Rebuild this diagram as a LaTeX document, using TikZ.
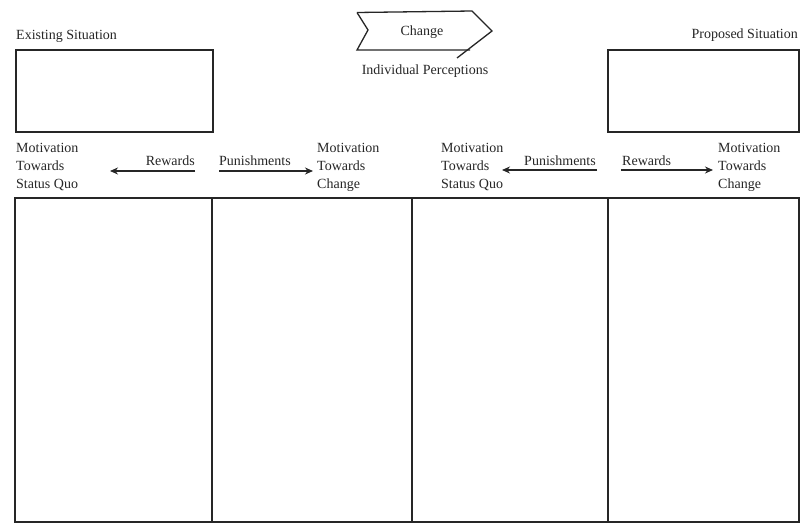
\documentclass[tikz,border=0pt]{standalone}
\usepackage{fontspec}
\setmainfont{Liberation Serif}
\usetikzlibrary{arrows.meta}
\tikzset{
  lbl/.style={inner sep=0pt, font=\fontsize{14}{18}\selectfont, text=black!85},
  stack/.style={lbl, align=left, anchor=base west},
  frame/.style={draw=black!85, line width=1.3pt},
  arr/.style={draw=black!85, line width=1.3pt, -{Stealth[length=8pt,width=7pt]}},
}
\begin{document}
\begin{tikzpicture}[x=1pt,y=-1pt]
\useasboundingbox[fill=white] (0,0) rectangle (811,530);

% top labels
\node[lbl, anchor=base west] (exist) at (16,39) {Existing Situation};
\node[lbl, anchor=base east] (prop) at (798,38) {Proposed Situation};
\node[lbl, anchor=base] (chg) at (422,35) {Change};
\node[lbl, anchor=base] (indiv) at (425,74) {Individual Perceptions};

% chevron
\draw[frame, line join=miter] (357,12.5) -- (472,11) -- (492,31) -- (457,58);
\draw[frame, line join=miter] (357,12.5) -- (368,30) -- (357,50) -- (470,50);

% situation boxes
\draw[frame] (16,50) rectangle (213,132);
\draw[frame] (608,50) rectangle (799,132);

% motivation stacks (base anchor = last line's baseline)
\node[stack] (m1) at (16,188) {Motivation\\Towards\\Status Quo};
\node[stack] (m2) at (317,188) {Motivation\\Towards\\Change};
\node[stack] (m3) at (441,188) {Motivation\\Towards\\Status Quo};
\node[stack] (m4) at (718,188) {Motivation\\Towards\\Change};

% rewards / punishments
\node[lbl, anchor=base east] (r1) at (195,165) {Rewards};
\node[lbl, anchor=base west] (p1) at (219,165) {Punishments};
\node[lbl, anchor=base east] (p2) at (596,165) {Punishments};
\node[lbl, anchor=base west] (r2) at (622,165) {Rewards};

\coordinate (r1a) at (195,171); \coordinate (r1b) at (110,171);
\coordinate (p1a) at (219,171); \coordinate (p1b) at (313,171);
\coordinate (p2a) at (597,170); \coordinate (p2b) at (502,170);
\coordinate (r2a) at (621,170); \coordinate (r2b) at (713,170);
\draw[arr] (r1a) -- (r1b);
\draw[arr] (p1a) -- (p1b);
\draw[arr] (p2a) -- (p2b);
\draw[arr] (r2a) -- (r2b);

% table
\draw[frame] (15,198) rectangle (799,522);
\draw[frame] (212,198) -- (212,522);
\draw[frame] (412,198) -- (412,522);
\draw[frame] (608,198) -- (608,522);
\end{tikzpicture}
\end{document}
